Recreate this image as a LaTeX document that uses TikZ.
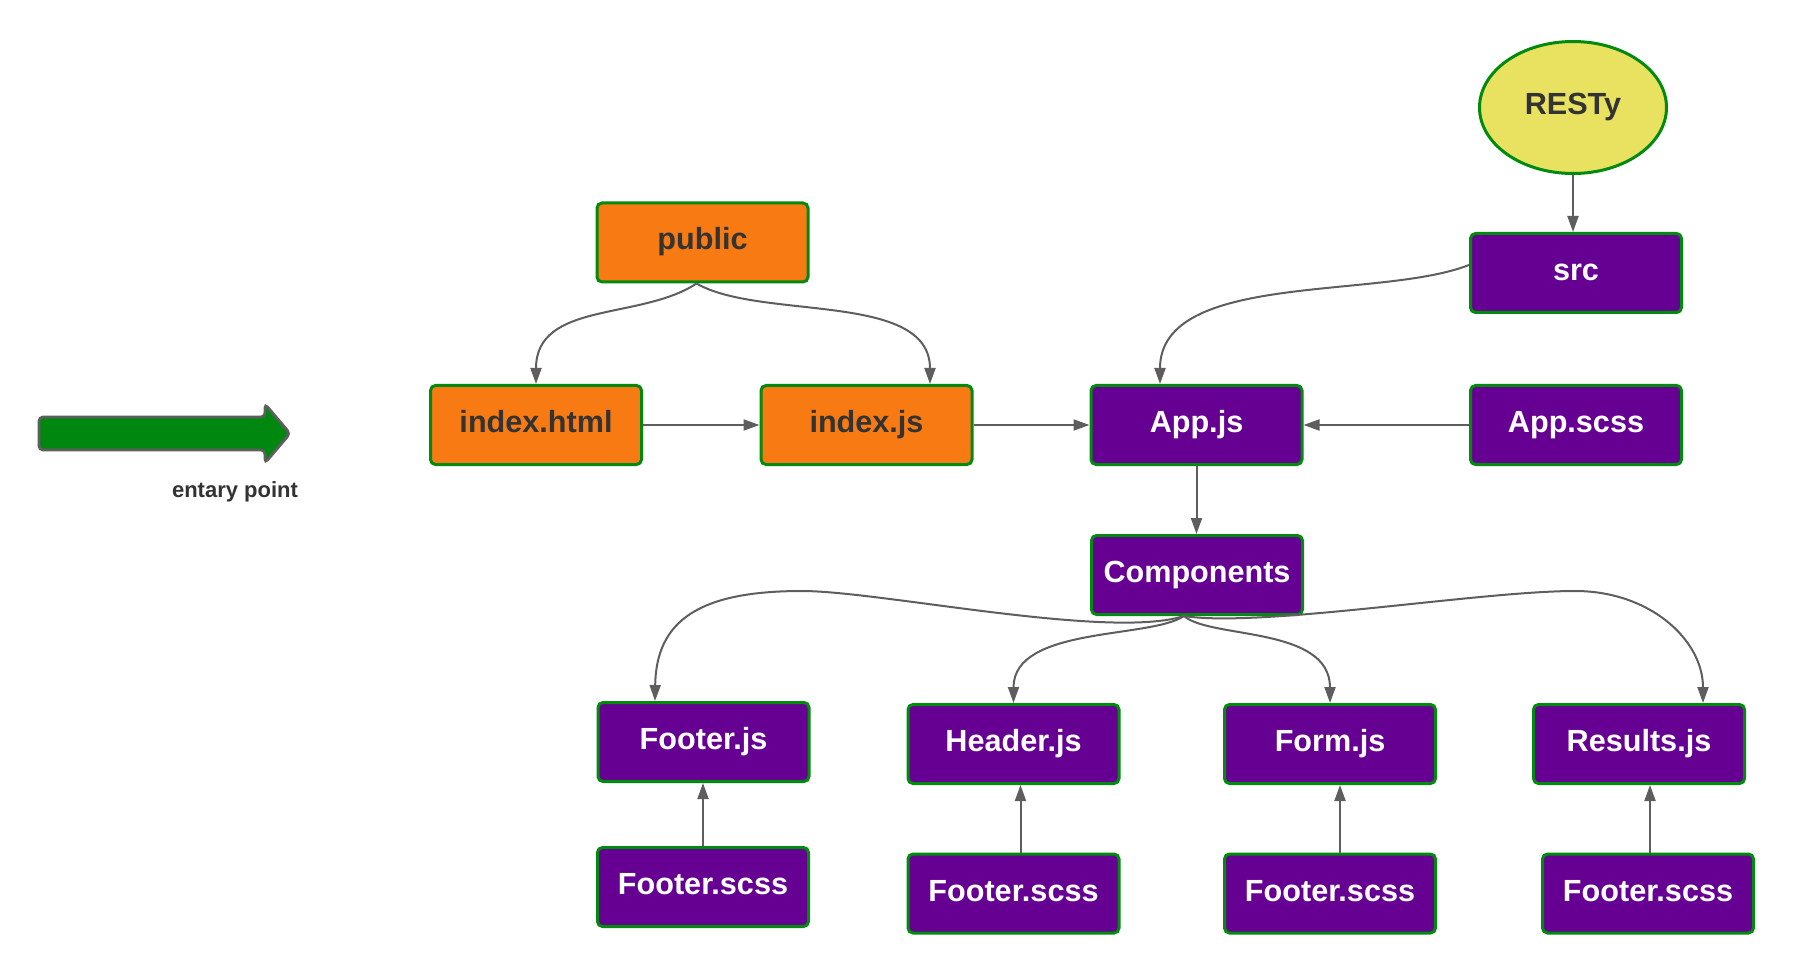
\documentclass[tikz,border=0pt]{standalone}
\usepackage{fontspec}
\setmainfont{Liberation Sans}
\usetikzlibrary{arrows.meta,shapes.geometric}
\definecolor{orangebox}{RGB}{247,123,18}
\definecolor{purplebox}{RGB}{102,0,147}
\definecolor{greenline}{RGB}{0,138,14}
\definecolor{yellowfill}{RGB}{232,226,96}
\definecolor{conngray}{RGB}{94,94,94}
\definecolor{textdark}{RGB}{51,51,51}
\definecolor{arrowgreen}{RGB}{0,135,16}
\begin{document}
\begin{tikzpicture}[x=0.5pt,y=-0.5pt,
  lbl/.style={font=\fontsize{15.3}{18}\selectfont\bfseries,text height=11pt,text depth=3.5pt},
  box/.style={lbl,draw=greenline,line width=1.5pt,rounded corners=2.5pt,minimum width=105.5pt,minimum height=39.5pt,inner sep=0pt},
  obox/.style={box,fill=orangebox,text=textdark},
  pbox/.style={box,fill=purplebox,text=white},
  conn/.style={draw=conngray,line width=1pt,-{Triangle[length=8pt,width=5.5pt]}}
]
\useasboundingbox (0,0) rectangle (1795,973);

% entry arrow
\draw[fill=arrowgreen,draw=conngray,line width=1.4pt,rounded corners=2pt]
  (39,417) -- (265,417) -- (265,404) -- (290,433.5) -- (265,463) -- (265,450) -- (39,450) -- cycle;
\node[font=\fontsize{11}{13}\selectfont\bfseries,text=textdark] (ep) at (235,492) {entary point};

% nodes
\node[obox] (pub) at (702.5,242.5) {public};
\node[obox] (idx) at (536,425) {index.html};
\node[obox] (ijs) at (866.5,425) {index.js};
\node[pbox] (app) at (1196.5,425) {App.js};
\node[pbox] (apps) at (1576,425) {App.scss};
\node[pbox] (src) at (1576,273) {src};
\node[lbl,ellipse,draw=greenline,line width=1.5pt,fill=yellowfill,minimum width=93.5pt,minimum height=66pt,inner sep=0pt,text=textdark] (resty) at (1573,107.5) {RESTy};
\node[pbox] (comp) at (1197,575) {Components};
\node[pbox] (fj) at (703.5,742) {Footer.js};
\node[pbox] (hj) at (1013.5,744) {Header.js};
\node[pbox] (formj) at (1330,744) {Form.js};
\node[pbox] (rj) at (1639,744) {Results.js};
\node[pbox] (fs1) at (703,887) {Footer.scss};
\node[pbox] (fs2) at (1013.5,893.5) {Footer.scss};
\node[pbox] (fs3) at (1330,893.5) {Footer.scss};
\node[pbox] (fs4) at (1648,893.5) {Footer.scss};

% connectors
\draw[conn] ([xshift=-3pt]pub.south) .. controls +(-56,37) and +(0,-83) .. (idx.north);
\draw[conn] ([xshift=-3pt]pub.south) .. controls +(64,37) and +(0,-93) .. ([xshift=31.75pt]ijs.north);
\draw[conn] (idx.east) -- (ijs.west);
\draw[conn] (ijs.east) -- (app.west);
\draw[conn] (apps.west) -- (app.east);
\draw[conn] ([yshift=4pt]src.west) .. controls +(-89,35) and +(0,-113) .. ([xshift=-18.25pt]app.north);
\draw[conn] (resty.south) -- (resty.south |- src.north);
\draw[conn] (app.south) -- (app.south |- comp.north);

\coordinate (cs) at ([xshift=-6.5pt]comp.south);
\coordinate (lp) at (802,591);
\coordinate (rp) at (1575,591);
\draw[conn] (cs) .. controls (1110,640) and (880,591) .. (lp)
  .. controls (700,591) and (656,620) .. ([xshift=-24.25pt]fj.north);
\draw[conn] (cs) .. controls +(-34,23) and +(0,-77) .. (hj.north);
\draw[conn] (cs) .. controls +(26,23) and +(0,-77) .. (formj.north);
\draw[conn] (cs) .. controls (1260,628) and (1480,591) .. (rp)
  .. controls (1650,591) and (1703,640) .. ([xshift=32pt]rj.north);

\draw[conn] (fs1.north) -- (fs1.north |- fj.south);
\draw[conn] ([xshift=3.5pt]fs2.north) -- ([xshift=3.5pt]fs2.north |- hj.south);
\draw[conn] ([xshift=5pt]fs3.north) -- ([xshift=5pt]fs3.north |- formj.south);
\draw[conn] ([xshift=1pt]fs4.north) -- ([xshift=1pt]fs4.north |- rj.south);
\end{tikzpicture}
\end{document}
